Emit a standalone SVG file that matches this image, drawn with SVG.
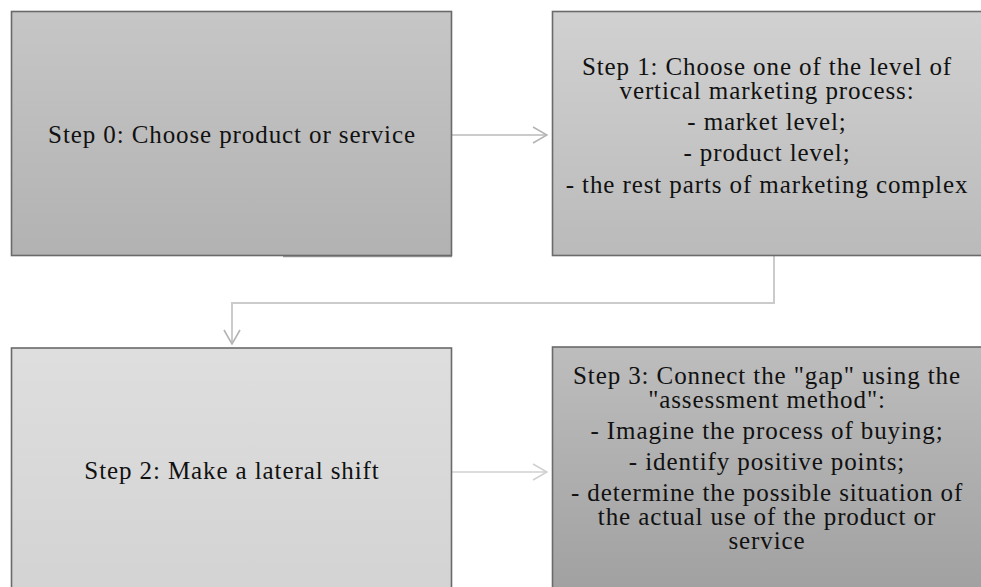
<svg xmlns="http://www.w3.org/2000/svg" width="981" height="587" viewBox="0 0 981 587">
<style>
.box{stroke:#6a6a6a;stroke-width:1.6}
.t{font-family:"Liberation Serif","Times New Roman",serif;font-size:25px;letter-spacing:0.9px;fill:#111;text-anchor:middle}
.conn{fill:none;stroke:#cbcbcb;stroke-width:2}
.conn2{fill:none;stroke:#dcdcdc;stroke-width:2}
.shadow{stroke:#9a9a9a;stroke-width:1.5}
</style>
<defs>
<linearGradient id="g0" x1="0" y1="0" x2="0" y2="1"><stop offset="0" stop-color="#c6c6c6"/><stop offset="1" stop-color="#b2b2b2"/></linearGradient>
<linearGradient id="g1" x1="0" y1="0" x2="0" y2="1"><stop offset="0" stop-color="#d1d1d1"/><stop offset="1" stop-color="#bababa"/></linearGradient>
<linearGradient id="g2" x1="0" y1="0" x2="0" y2="1"><stop offset="0" stop-color="#dedede"/><stop offset="1" stop-color="#d3d3d3"/></linearGradient>
<linearGradient id="g3" x1="0" y1="0" x2="0" y2="1"><stop offset="0" stop-color="#bdbdbd"/><stop offset="1" stop-color="#a0a0a0"/></linearGradient>
<marker id="arr" viewBox="0 0 16 18" refX="15" refY="9" markerWidth="16" markerHeight="18" markerUnits="userSpaceOnUse" orient="auto"><path d="M1,1 L15,9 L1,17" fill="none" stroke="#b4b4b4" stroke-width="1.6"/></marker>
<marker id="arr2" viewBox="0 0 16 18" refX="15" refY="9" markerWidth="16" markerHeight="18" markerUnits="userSpaceOnUse" orient="auto"><path d="M1,1 L15,9 L1,17" fill="none" stroke="#d0d0d0" stroke-width="1.6"/></marker>
</defs>
<rect width="981" height="587" fill="#ffffff"/>
<g id="connectors">
<path class="conn" d="M452,135 H547" marker-end="url(#arr)"/>
<path class="conn" d="M774,256 V303 H232 V344" marker-end="url(#arr)"/>
<path class="conn2" d="M452,472 H547" marker-end="url(#arr2)"/>
</g>
<g id="step0">
<line class="shadow" x1="283" y1="256.5" x2="452" y2="256.5"/>
<rect class="box" x="11.5" y="11.5" width="440" height="244" fill="url(#g0)"/>
<text class="t" x="232" y="143">Step 0: Choose product or service</text>
</g>
<g id="step1">
<rect class="box" x="552.5" y="11.5" width="432" height="244" fill="url(#g1)"/>
<text class="t" x="767" y="75">Step 1: Choose one of the level of</text>
<text class="t" x="767" y="99">vertical marketing process:</text>
<text class="t" x="767" y="130">- market level;</text>
<text class="t" x="767" y="161">- product level;</text>
<text class="t" x="767" y="193">- the rest parts of marketing complex</text>
</g>
<g id="step2">
<rect class="box" x="11.5" y="348" width="440" height="250" fill="url(#g2)"/>
<text class="t" x="232" y="479">Step 2: Make a lateral shift</text>
</g>
<g id="step3">
<rect class="box" x="552.5" y="347" width="432" height="251" fill="url(#g3)"/>
<text class="t" x="767" y="384">Step 3: Connect the "gap" using the</text>
<text class="t" x="767" y="408">"assessment method":</text>
<text class="t" x="767" y="439">- Imagine the process of buying;</text>
<text class="t" x="767" y="470">- identify positive points;</text>
<text class="t" x="767" y="501">- determine the possible situation of</text>
<text class="t" x="767" y="525">the actual use of the product or</text>
<text class="t" x="767" y="549">service</text>
</g>
</svg>
